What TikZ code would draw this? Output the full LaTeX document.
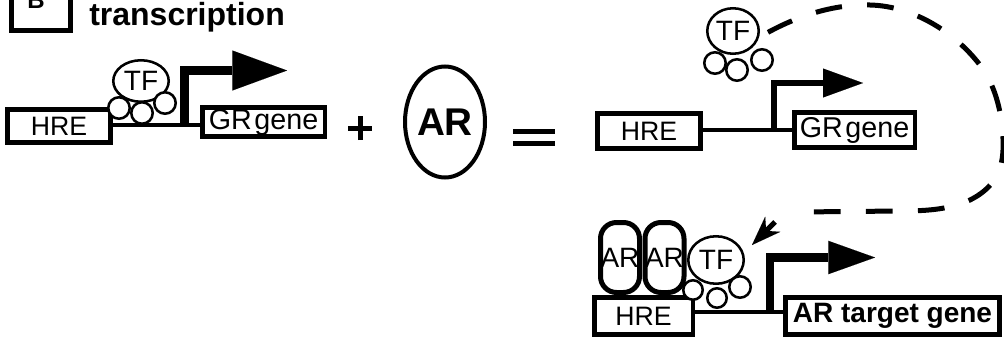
\documentclass[tikz,border=0pt]{standalone}
\usepackage{fontspec}
\setmainfont{Liberation Sans}
\usetikzlibrary{shapes.geometric,arrows.meta}
\tikzset{
  gbox/.style={draw, line width=3.4pt, inner sep=0pt, font=\fontsize{20}{24}\selectfont},
  grfont/.style={font=\fontsize{21.5}{24}\selectfont},
  tfbub/.style={draw, ellipse, fill=white, line width=1.9pt, inner sep=0pt, font=\fontsize{21}{24}\selectfont},
  sbub/.style={draw, circle, fill=white, line width=1.9pt, inner sep=0pt, minimum size=16.1pt},
  sbubs/.style={sbub, minimum size=14.6pt},
  arpill/.style={draw, rectangle, rounded corners=12pt, line width=3.75pt, inner sep=0pt,
    minimum width=29.25pt, minimum height=52.5pt, font=\fontsize{21}{24}\selectfont},
  dnaline/.style={line width=3pt},
  tssbig/.style={line width=6.75pt, line join=miter, -{Triangle[length=41pt,width=30pt,line width=0.01pt]}},
  tsssmall/.style={line width=4.1pt, line join=miter, -{Triangle[length=30pt,width=21.75pt,line width=0.01pt]}},
  tssmid/.style={line width=6.4pt, line join=miter, -{Triangle[length=35pt,width=25pt,line width=0.01pt]}},
  opline/.style={line width=3.75pt},
  movepath/.style={line width=3.75pt, dash pattern=on 20pt off 19pt},
  movetip/.style={line width=3.75pt, -{Stealth[length=22pt,width=16pt,inset=7pt,line width=0.01pt]}}
}
\begin{document}
\begin{tikzpicture}[x=0.75pt,y=-0.75pt]
\useasboundingbox (0,0) rectangle (1004,336);

% panel label
\draw[line width=3.75pt] (11.5,-40) rectangle (70.5,30.5);
\node[anchor=base, font=\fontsize{18}{20}\selectfont\bfseries] (plabel) at (36,8) {B};
\node[anchor=base west, inner sep=0pt, font=\fontsize{24}{28}\selectfont\bfseries] (title) at (89,25) {transcription};

% ---- left construct
\coordinate (p1) at (184,125);
\coordinate (t1) at (287,70.5);
\node[gbox, minimum width=77.6pt, minimum height=25.1pt] (hre1) at (59,126) {HRE};
\node[gbox, grfont, minimum width=91.9pt, minimum height=22.1pt] (gr1) at (263.5,122) {GR\hspace{2pt}gene};
\draw[dnaline] (hre1.east|-p1) -- (gr1.west|-p1);
\draw[tssbig] (p1) |- (t1);
\node[tfbub, minimum width=41.6pt, minimum height=31.1pt] (tf1) at (141,81) {TF};
\node[sbub] (s1a) at (119,108) {};
\node[sbub] (s1b) at (142,113) {};
\node[sbub] (s1c) at (165,103) {};

% plus
\coordinate (plus) at (360,128);
\draw[opline] ([xshift=-9pt]plus) -- ([xshift=9pt]plus);
\draw[opline] ([yshift=-9pt]plus) -- ([yshift=9pt]plus);

% AR
\node[draw, ellipse, line width=3pt, inner sep=0pt, minimum width=60pt, minimum height=83.25pt,
  font=\fontsize{29}{32}\selectfont\bfseries] (ar1) at (445,122) {AR};

% equals
\coordinate (eq) at (534,137);
\draw[opline] ([xshift=-15.75pt,yshift=4.5pt]eq) -- ([xshift=15.75pt,yshift=4.5pt]eq);
\draw[opline] ([xshift=-15.75pt,yshift=-4.5pt]eq) -- ([xshift=15.75pt,yshift=-4.5pt]eq);

% ---- right top construct
\coordinate (p2) at (774,130);
\coordinate (t2) at (863,83);
\node[gbox, minimum width=77.6pt, minimum height=26.6pt] (hre2) at (649,131) {HRE};
\node[gbox, grfont, minimum width=90.4pt, minimum height=26.6pt] (gr2) at (854.5,130) {GR\hspace{2pt}gene};
\draw[dnaline] (hre2.east|-p2) -- (gr2.west|-p2);
\draw[tsssmall] (p2) |- (t2);
\node[tfbub, minimum width=38.6pt, minimum height=34.1pt] (tf2) at (733,31) {TF};
\node[sbub] (s2a) at (715,63) {};
\node[sbub] (s2b) at (737,70) {};
\node[sbub] (s2c) at (762,60) {};

% ---- bottom construct
\coordinate (p3) at (770,312);
\coordinate (t3) at (875,257.5);
\node[arpill] (ar3a) at (620,257.5) {AR};
\node[arpill] (ar3b) at (664.5,257.5) {AR};
\node[gbox, minimum width=73.9pt, minimum height=28.1pt] (hre3) at (643.5,316) {HRE};
\node[gbox, line width=3.75pt, minimum width=160.5pt, minimum height=27.75pt,
  font=\fontsize{21}{24}\selectfont\bfseries] (tgt) at (892.5,316) {AR target gene};
\draw[dnaline] (hre3.east|-p3) -- (tgt.west|-p3);
\draw[tssmid] (p3) |- (t3);
\node[tfbub, minimum width=41.6pt, minimum height=35.6pt] (tf3) at (716,260) {TF};
\node[sbubs] (s3a) at (693,290) {};
\node[sbubs] (s3b) at (717,298) {};
\node[sbub] (s3c) at (740,287) {};

% ---- movement of TF (dashed)
\coordinate (dend) at (798,212);
\coordinate (atail) at (775,222);
\coordinate (ahead) at (752,245);
\draw[movepath] ([xshift=6pt,yshift=-1pt]tf2.east) .. controls (800,15) and (835,4) .. (870,5)
  .. controls (915,6) and (960,35) .. (985,72)
  .. controls (997,92) and (1004,120) .. (1003,150)
  .. controls (1002,175) and (990,190) .. (970,200)
  .. controls (950,209) and (930,211) .. (900,211) -- (dend);
\draw[movetip] (atail) -- (ahead);
\end{tikzpicture}
\end{document}
